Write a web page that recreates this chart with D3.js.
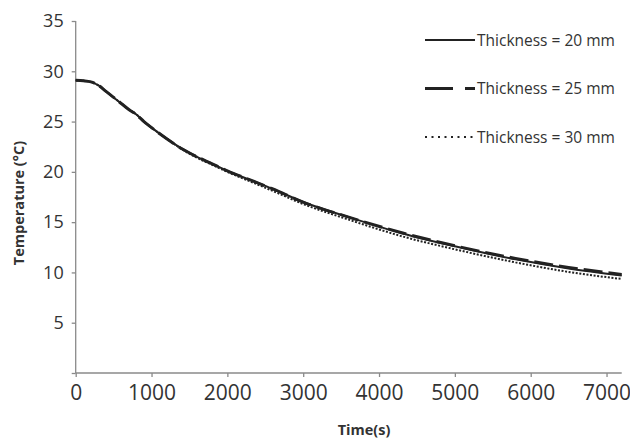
<!DOCTYPE html>
<html>
<head>
<meta charset="utf-8">
<script src="https://cdn.jsdelivr.net/npm/d3@7"></script>
<style>
  body { margin: 0; background: #fff; }
  text { font-family: "Open Sans", sans-serif; fill: #333; }
</style>
</head>
<body>
<svg width="630" height="439"></svg>
<script>
// values
const times = [0, 100, 200, 300, 400, 500, 600, 700, 800, 900, 1000, 1200, 1400, 1600, 1800, 2000, 2300, 2600, 3000, 3600, 4300, 5000, 5800, 6500, 7200];
const temp20 = [29.1, 29.05, 28.95, 28.6, 28.0, 27.4, 26.8, 26.2, 25.7, 25.0, 24.4, 23.3, 22.3, 21.5, 20.8, 20.1, 19.2, 18.3, 17.0, 15.5, 13.9, 12.6, 11.3, 10.4, 9.7];
const temp25 = [29.1, 29.05, 28.95, 28.6, 28.0, 27.4, 26.8, 26.2, 25.7, 25.0, 24.4, 23.3, 22.3, 21.5, 20.8, 20.1, 19.2, 18.3, 17.0, 15.5, 13.95, 12.65, 11.4, 10.5, 9.8];
const temp30 = [29.1, 29.05, 28.95, 28.6, 28.0, 27.4, 26.8, 26.2, 25.7, 25.0, 24.4, 23.3, 22.25, 21.4, 20.7, 20.0, 19.05, 18.1, 16.8, 15.25, 13.6, 12.3, 11.0, 10.05, 9.35];
const xTicks = [0, 1000, 2000, 3000, 4000, 5000, 6000, 7000];
const yTicks = [0, 5, 10, 15, 20, 25, 30, 35];
const seriesNames = ['Thickness = 20 mm', 'Thickness = 25 mm', 'Thickness = 30 mm'];

const svg = d3.select('svg');

const x = d3.scaleLinear().domain([0, 7200]).range([75.7, 621.7]);
const y = d3.scaleLinear().domain([0, 35]).range([373, 21]);

// axes
const xAxis = svg.append('g')
  .attr('transform', 'translate(0,373)')
  .call(d3.axisBottom(x).tickValues(xTicks).tickSize(4).tickPadding(8).tickFormat(d3.format('d')));
xAxis.selectAll('text').attr('font-size', 21).style('font-family', '"Open Sans", sans-serif').attr('fill', '#333');

const yAxis = svg.append('g')
  .attr('transform', 'translate(75.7,0)')
  .call(d3.axisLeft(y).tickValues(yTicks).tickSize(4).tickPadding(8)
    .tickFormat(d => d === 0 ? '' : d));
yAxis.selectAll('text').attr('font-size', 18).style('font-family', '"Open Sans", sans-serif').attr('fill', '#333');

svg.selectAll('.domain, .tick line').attr('stroke', '#8a8a8a').attr('stroke-width', 1.3);
svg.selectAll('g').attr('font-family', null);
xAxis.select('.domain').attr('d', 'M75.7,0H621.7');
yAxis.select('.domain').attr('d', 'M0,373V21');

// axis titles
svg.append('text')
  .attr('x', 364).attr('y', 435)
  .attr('text-anchor', 'middle')
  .attr('font-size', 14.5).attr('font-weight', 'bold')
  .text('Time(s)');

svg.append('text')
  .attr('transform', 'translate(24,203) rotate(-90)')
  .attr('text-anchor', 'middle')
  .attr('font-size', 14.5).attr('font-weight', 'bold')
  .text('Temperature (°C)');

// lines
const styles = [
  { width: 2, dash: null, legendDash: null },
  { width: 3, dash: '19,6', legendDash: '28,12' },
  { width: 2, dash: '2,1.6', legendDash: '2,4.5' }
];
const allSeries = [temp20, temp25, temp30];

const line = d3.line()
  .x((d, i) => x(times[i]))
  .y(d => y(d))
  .curve(d3.curveMonotoneX);

allSeries.forEach((s, i) => {
  svg.append('path')
    .datum(s)
    .attr('d', line)
    .attr('fill', 'none')
    .attr('stroke', '#222')
    .attr('stroke-width', styles[i].width)
    .attr('stroke-dasharray', styles[i].dash);
});

// legend
const legend = svg.append('g');
seriesNames.forEach((name, i) => {
  const ly = 40 + i * 48.5;
  legend.append('line')
    .attr('x1', 425).attr('x2', 475)
    .attr('y1', ly).attr('y2', ly)
    .attr('stroke', '#222')
    .attr('stroke-width', styles[i].width)
    .attr('stroke-dasharray', styles[i].legendDash);
  legend.append('text')
    .attr('x', 477).attr('y', ly + 5.5)
    .attr('font-size', 15.5)
    .text(name);
});
</script>
</body>
</html>
